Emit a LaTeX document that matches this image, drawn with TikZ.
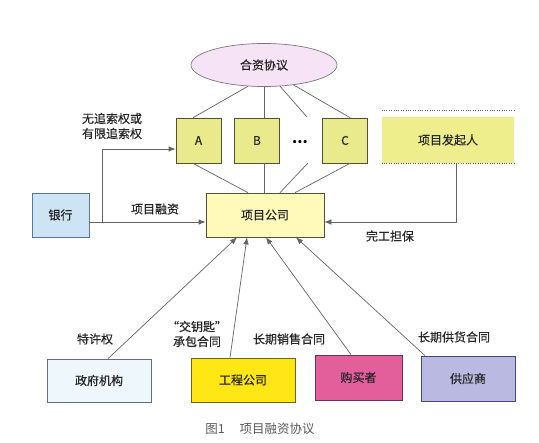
\documentclass[tikz,border=0pt]{standalone}
\usepackage{fontspec}
\setmainfont{Noto Sans CJK SC}
\newfontfamily\cjkmid{Noto Sans CJK SC}[FakeBold=0.5]
\usepackage{tikz}
\usetikzlibrary{arrows.meta, shapes.geometric}
\definecolor{jvpink}{RGB}{246,228,246}
\definecolor{ellgray}{RGB}{120,120,120}
\definecolor{shareyellow}{RGB}{232,234,140}
\definecolor{shareedge}{RGB}{80,80,60}
\definecolor{sponsoryellow}{RGB}{238,238,140}
\definecolor{companyyellow}{RGB}{255,250,185}
\definecolor{bankblue}{RGB}{205,228,245}
\definecolor{bankedge}{RGB}{90,120,150}
\definecolor{govblue}{RGB}{238,247,252}
\definecolor{govedge}{RGB}{100,110,125}
\definecolor{engyellow}{RGB}{255,230,20}
\definecolor{engedge}{RGB}{110,100,40}
\definecolor{buyerpink}{RGB}{226,95,155}
\definecolor{buyeredge}{RGB}{110,50,90}
\definecolor{supplierblue}{RGB}{185,185,225}
\definecolor{supplieredge}{RGB}{70,70,130}
\definecolor{linegray}{RGB}{100,100,100}

\begin{document}
\begin{tikzpicture}[
    x=1pt, y=-1pt, >={Latex[length=7pt,width=5.5pt]},
    every node/.style={align=center, text=black!85, font=\cjkmid\fontsize{12}{15}\selectfont},
    box/.style={rectangle, line width=0.7pt, inner sep=0pt},
    link/.style={draw=linegray, line width=0.7pt}
]
\fill[white] (0,0) rectangle (539,443);
% Define shapes
\node (agreement) [ellipse, draw=ellgray, fill=jvpink, line width=0.7pt, minimum width=146pt, minimum height=43pt] at (264,65) {合资协议};
\node (share_a) [box, draw=shareedge, fill=shareyellow, minimum width=45pt, minimum height=45pt] at (198.5,140.5) {A};
\node (share_b) [box, draw=shareedge, fill=shareyellow, minimum width=45pt, minimum height=45pt] at (257,140.5) {B};
\node (share_dots) [text=black, font=\bfseries\fontsize{15}{15}\selectfont] at (300,142) {...};
\node (share_c) [box, draw=shareedge, fill=shareyellow, minimum width=45pt, minimum height=45pt] at (345,140.5) {C};
\node (sponsor) [box, fill=sponsoryellow, minimum width=132pt, minimum height=46pt] at (448,140) {项目发起人};
\node (company) [box, draw=shareedge, fill=companyyellow, minimum width=118pt, minimum height=44pt] at (265,215) {项目公司};
\node (bank) [box, draw=bankedge, fill=bankblue, minimum width=57pt, minimum height=44pt] at (60.5,215) {银行};

\node (government) [box, draw=govedge, fill=govblue, minimum width=104pt, minimum height=43pt] at (99,380.5) {政府机构};
\node (contractor) [box, draw=engedge, fill=engyellow, minimum width=104pt, minimum height=44pt] at (243,380) {工程公司};
\node (buyer) [box, draw=buyeredge, fill=buyerpink, minimum width=87pt, minimum height=45pt] at (358.5,377.5) {购买者};
\node (supplier) [box, draw=supplieredge, fill=supplierblue, minimum width=94pt, minimum height=45pt] at (468,378.5) {供应商};

% Labels
\node (lbl_recourse) at (112,126) {无追索权或\\有限追索权};
\node (lbl_finance) at (155,209) {项目融资};
\node (lbl_completion) at (390,236) {完工担保};
\node (lbl_franchise) at (95,339) {特许权};
\node (lbl_turnkey) at (197,334) {“交钥匙”\\承包合同};
\node (lbl_sales) at (289,339) {长期销售合同};
\node (lbl_supply) at (454,337) {长期供货合同};
\node (caption) [text=black!65, font=\fontsize{12.5}{15}\selectfont] at (260,429) {图1\hspace{1.2em}项目融资协议};

\coordinate (fork) at (102,222);
% Draw lines
\draw[dotted, linegray] ([yshift=6pt]sponsor.north west) -- ([yshift=6pt]sponsor.north east);
\draw[dotted, linegray] (sponsor.south west) -- (sponsor.south east);
\draw[link] (agreement.233) -- ([xshift=-5.5pt]share_a.north);
\draw[link] (agreement.south) -- (agreement.south |- share_b.north);
\draw[link] (agreement.307) -- ([xshift=7pt, yshift=25pt]share_dots.center);
\draw[link] (agreement.326) -- ([xshift=5pt]share_c.north);
\draw[link] ([xshift=-5.5pt]share_a.south) -- ([xshift=-17pt]company.north);
\draw[link] (agreement.south |- share_b.south) -- (agreement.south |- company.north);
\draw[link] ([xshift=8pt, yshift=-21pt]share_dots.center) -- ([xshift=15pt]company.north);
\draw[link] ([xshift=5pt]share_c.south) -- ([xshift=30pt]company.north);
% Draw arrows
\draw[link, ->] ([yshift=-7pt]bank.east) -- ([yshift=-7pt]company.west);
\draw[link, ->] (fork) |- ([yshift=-8.5pt]share_a.west);
\draw[link, ->] ([xshift=8pt]sponsor.south) |- ([yshift=-7pt]company.east);
\draw[link, ->] ([xshift=9pt]government.north) -- ([xshift=-28pt]company.south);
\draw[link, ->] ([xshift=-13pt]contractor.north) -- ([xshift=-18pt]company.south);
\draw[link, ->] ([xshift=-7.5pt]buyer.north) -- ([xshift=1pt]company.south);
\draw[link, ->] ([xshift=-43pt]supplier.north) -- ([xshift=31pt]company.south);
\end{tikzpicture}
\end{document}
